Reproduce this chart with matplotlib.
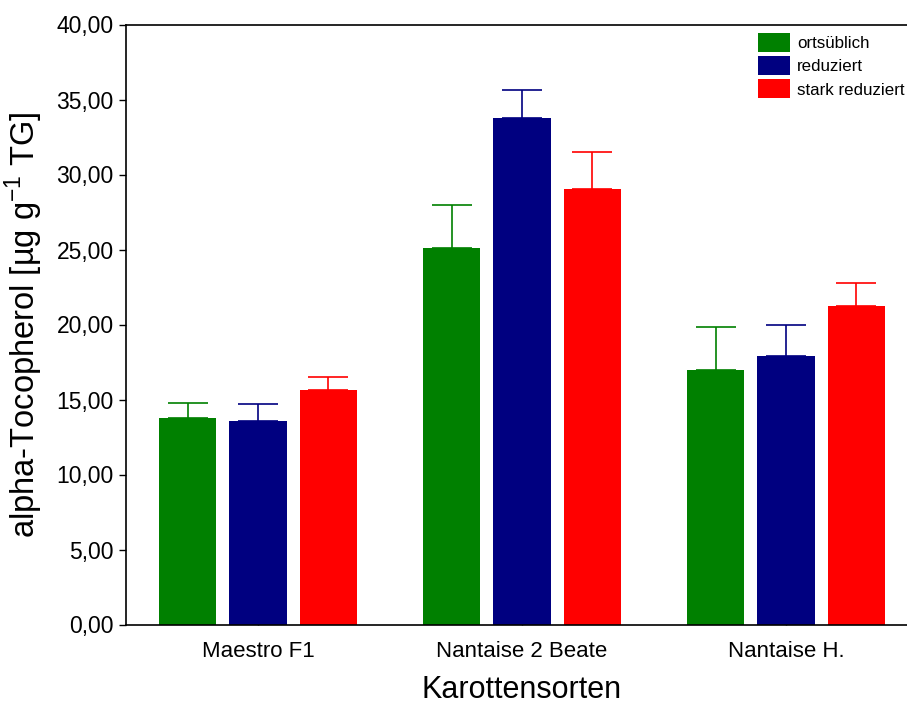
import matplotlib
matplotlib.use("Agg")
import matplotlib.pyplot as plt
import numpy as np
from matplotlib.ticker import FuncFormatter

categories = ["Maestro F1", "Nantaise 2 Beate", "Nantaise H."]
series_names = ["ortsüblich", "reduziert", "stark reduziert"]
colors = ["#008000", "#000080", "#ff0000"]
means = {
    "ortsüblich": [13.79, 25.12, 16.97],
    "reduziert": [13.55, 33.79, 17.92],
    "stark reduziert": [15.65, 29.05, 21.25],
}
errors = {
    "ortsüblich": [1.00, 2.85, 2.84],
    "reduziert": [1.17, 1.86, 2.07],
    "stark reduziert": [0.85, 2.45, 1.54],
}

plt.rcParams['font.family'] = ['Liberation Sans', 'DejaVu Sans']
fig = plt.figure(figsize=(9.07, 7.06), dpi=100)
ax = fig.add_axes([126/907, 81.5/706, 792/907, 600/706])

x = np.arange(len(categories))
width = 0.218
offset = 0.267
for i, name in enumerate(series_names):
    xs = x + (i - 1) * offset
    ax.bar(xs, means[name], width=width, color=colors[i], label=name, zorder=2)
    ax.errorbar(xs, means[name], yerr=[np.zeros(len(xs)), errors[name]],
                fmt='none', ecolor=colors[i], elinewidth=1.2, capsize=14.5,
                capthick=1.2, zorder=1)

ax.set_xlim(-0.5, 2.5)
ax.set_ylim(0, 40)
ax.set_yticks(np.arange(0, 40.1, 5))
ax.yaxis.set_major_formatter(FuncFormatter(lambda v, p: f"{v:.2f}".replace(".", ",")))
ax.set_xticks(x)
ax.set_xticklabels(categories)
ax.tick_params(axis='y', direction='out', length=5, width=1, labelsize=16.5, pad=4)
ax.tick_params(axis='x', direction='in', length=5, width=1, labelsize=16, pad=12)
for s in ax.spines.values():
    s.set_linewidth(1.2)

ax.set_ylabel("alpha-Tocopherol [µg g$^{\\mathregular{-1}}$ TG]", fontsize=23.5, labelpad=8)
ax.set_xlabel("Karottensorten", fontsize=22, labelpad=9)

leg = ax.legend(loc='upper left', bbox_to_anchor=(0.798, 0.986), frameon=False,
                fontsize=12.2, handlelength=1.9, handleheight=1.35,
                handletextpad=0.4, labelspacing=0.25, borderaxespad=0, borderpad=0)

fig.savefig("out.png", dpi=100)
